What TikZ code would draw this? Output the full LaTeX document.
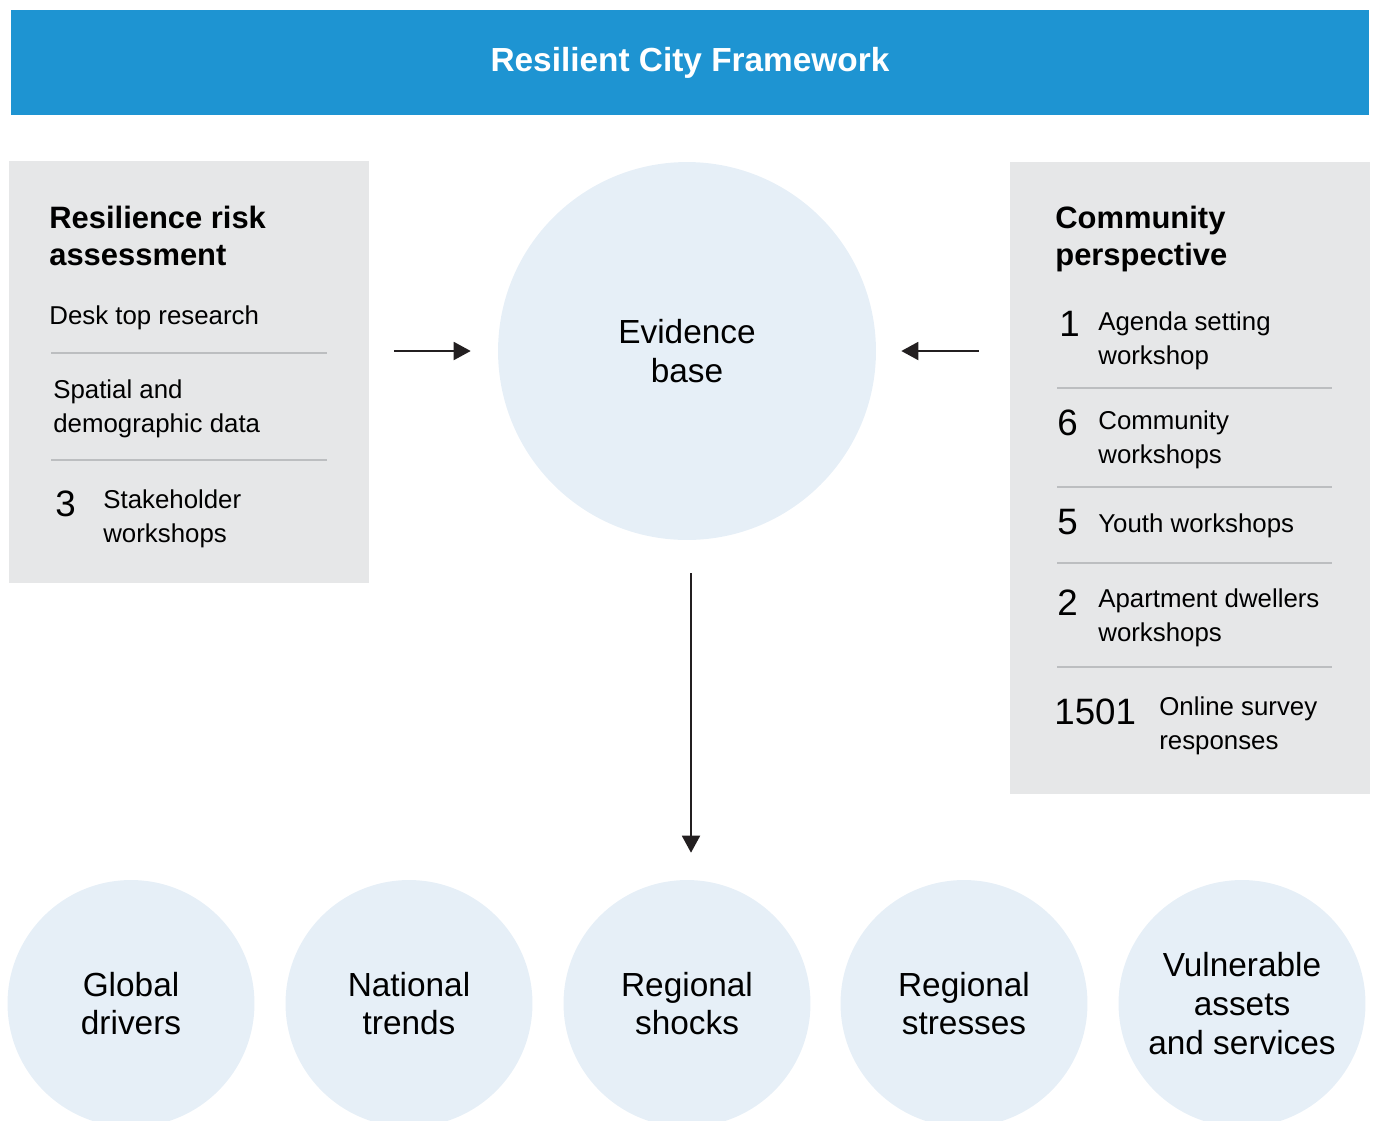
\documentclass[tikz,border=0pt]{standalone}
\usepackage{fontspec}
\setmainfont{Liberation Sans}
\usetikzlibrary{arrows.meta}
\definecolor{frameblue}{HTML}{1E94D2}
\definecolor{panelgrey}{HTML}{E6E7E8}
\definecolor{bubblefill}{HTML}{E6EFF7}
\definecolor{rulegrey}{HTML}{BCBEC0}
\definecolor{inkdark}{HTML}{231F20}
\begin{document}
\begin{tikzpicture}[x=0.02cm,y=-0.02cm]
        % Styles
        \tikzstyle{panel}=[fill=panelgrey,inner sep=0pt]
        \tikzstyle{bubble}=[circle,fill=bubblefill,inner sep=0pt,align=center,font=\fontsize{19}{22.1}\selectfont]
        \tikzstyle{heading}=[anchor=west,inner sep=0pt,align=left,font=\bfseries\fontsize{17.6}{21}\selectfont]
        \tikzstyle{body}=[anchor=west,inner sep=0pt,align=left,font=\fontsize{14.7}{19.3}\selectfont]
        \tikzstyle{count}=[anchor=west,inner sep=0pt,font=\fontsize{20.9}{24}\selectfont]
        \tikzstyle{rule}=[rulegrey,line width=0.6pt]
        \tikzstyle{arrow}=[inkdark,line width=1.1pt,-{Triangle[length=0.34cm,width=0.36cm]}]
        \useasboundingbox (0,0) rectangle (1378,1120);
        \clip (0,0) rectangle (1378,1120);
        %title
        \node[fill=frameblue,minimum width=27.16cm,minimum height=2.1cm,text=white,
              font=\bfseries\fontsize{19}{22}\selectfont] (title) at (690,62.5) {Resilient City Framework};
        %panels
        \node[panel,minimum width=7.2cm,minimum height=8.44cm] (leftbox) at (189,372) {};
        \node[panel,minimum width=7.2cm,minimum height=12.64cm] (rightbox) at (1190,478) {};
        \node[bubble,minimum size=7.56cm] (ev) at (687,351) {Evidence\\base};
        %left panel
        \node[heading] (riskhead) at (49,235.5) {Resilience risk\\assessment};
        \node[body] (desk) at (49,318) {Desk top research};
        \draw[rule] (51,353) -- (327,353);
        \node[body] (spatial) at (53,409) {Spatial and\\demographic data};
        \draw[rule] (51,460) -- (327,460);
        \node[count] (n3) at (55,504) {3};
        \node[body] (stake) at (103,519) {Stakeholder\\workshops};
        %right panel
        \node[heading] (commhead) at (1055,239) {Community\\perspective};
        \node[count] (n1) at (1059,324) {1};
        \node[body] (agenda) at (1098,341) {Agenda setting\\workshop};
        \node[count] (n6) at (1057,423) {6};
        \node[body] (commws) at (1098,440) {Community\\workshops};
        \node[count] (n5) at (1057,522) {5};
        \node[body] (youth) at (1098,526) {Youth workshops};
        \node[count] (n2) at (1057,603) {2};
        \node[body] (apart) at (1098,618) {Apartment dwellers\\workshops};
        \node[count] (n1501) at (1054,712) {1501};
        \node[body] (online) at (1159,726) {Online survey\\responses};
        \foreach \y in {388,487,563,667}
            \draw[rule] (1057,\y) -- (1332,\y);
        %bottom row
        \foreach \x/\txt [count=\i] in {131/{Global\\drivers},409/{National\\trends},687/{Regional\\shocks},964/{Regional\\stresses},1242/{Vulnerable\\assets\\and services}}
            \node[bubble,minimum size=4.94cm] (c\i) at (\x,1003.5) {\txt};
        %arrows
        \draw[arrow,shorten <=0.5cm,shorten >=0.54cm] (leftbox.east |- ev.west) -- (ev.west);
        \draw[arrow,shorten <=0.62cm,shorten >=0.5cm] (rightbox.west |- ev.east) -- (ev.east);
        \draw[arrow,shorten <=0.66cm,shorten >=0.54cm] ([xshift=0.08cm]ev.south) -- ([xshift=0.08cm]c3.north);
\end{tikzpicture}
\end{document}
